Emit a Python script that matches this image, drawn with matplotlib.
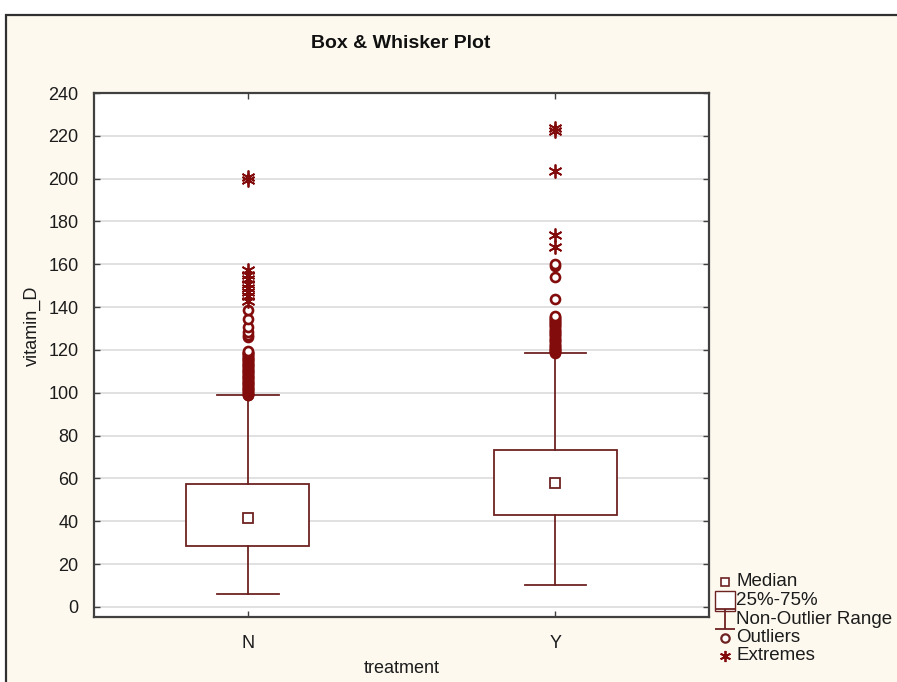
import matplotlib
matplotlib.use("Agg")
import matplotlib.pyplot as plt
from matplotlib.lines import Line2D
from matplotlib.patches import Rectangle
from matplotlib.path import Path

plt.rcParams['font.family'] = ['Liberation Sans', 'DejaVu Sans']

# data
groups = ["N", "Y"]
medians = [41.5, 58.0]
q1 = [28.5, 43.0]
q3 = [57.3, 73.2]
whisk_lo = [6.0, 10.3]
whisk_hi = [99.0, 118.5]

outliers_n = [98.8, 99.2, 99.6, 100.0, 100.4, 100.8, 101.2, 101.6, 102.0, 102.4,
              102.8, 103.2, 103.6, 104.0, 104.4, 104.8, 105.2, 105.6, 106.0, 106.4,
              106.8, 107.2, 107.6, 108.0, 108.4, 108.8, 109.2, 109.6, 110.0, 110.4,
              110.8, 111.2, 111.6, 112.0, 112.4, 112.8, 113.2, 113.6, 114.0, 114.4,
              114.8, 115.2, 115.6, 116.0, 116.4, 116.8, 117.2, 117.6, 118.0, 118.4,
              118.8, 119.2, 119.7,
              126.0, 127.2, 128.3, 130.5, 134.3, 138.6]
extremes_n = [143.0, 145.0, 147.0, 149.0, 151.0, 153.0, 155.0, 157.5, 199.2, 200.8]

outliers_y = [118.6, 119.0, 119.4, 119.8, 120.2, 120.6, 121.0, 121.5, 122.0, 122.5,
              123.0, 123.5, 124.0, 124.6, 125.2, 125.8, 126.5, 127.0, 127.5, 128.0,
              128.5, 129.0, 129.5, 130.0, 130.5, 131.0, 131.5, 132.0, 132.5, 133.0,
              133.5, 134.0, 134.5, 135.0, 135.5, 136.0,
              144.0, 154.0, 159.3, 160.3]
extremes_y = [168.0, 173.5, 203.5, 222.3, 223.5]

outliers = [outliers_n, outliers_y]
extremes = [extremes_n, extremes_y]

line_col = '#6e2222'
mark_col = '#820c0c'
cream = '#fdf9ef'
txt_col = '#1c1c1c'

W, H = 897, 682
fig = plt.figure(figsize=(W / 100, H / 100), dpi=100, facecolor='white')

# outer frame
fig.patches.append(Rectangle((6 / W, -0.05), 1.2, 1 - 15 / H + 0.05,
                             transform=fig.transFigure, facecolor=cream,
                             edgecolor='#303030', lw=1.6, zorder=-5))

ax = fig.add_axes([94 / W, 1 - 617 / H, (709 - 94) / W, (617 - 93) / H])
ax.set_facecolor('white')

stats = []
for i in range(len(groups)):
    stats.append(dict(med=medians[i], q1=q1[i], q3=q3[i],
                      whislo=whisk_lo[i], whishi=whisk_hi[i], fliers=[]))

pos = list(range(len(groups)))
ax.bxp(stats, positions=pos, widths=0.4, capwidths=0.2, patch_artist=True,
       boxprops=dict(facecolor='white', edgecolor=line_col, lw=1.3),
       whiskerprops=dict(color=line_col, lw=1.3),
       capprops=dict(color=line_col, lw=1.3),
       medianprops=dict(visible=False), zorder=3)

ax.plot(pos, medians, 's', ms=7, mfc='white', mec=line_col, mew=1.3, ls='none', zorder=4)

for i in pos:
    ax.plot([i] * len(outliers[i]), outliers[i], 'o', ms=6.5, mfc='white',
            mec=mark_col, mew=1.9, ls='none', zorder=5)
    ax.plot([i] * len(extremes[i]), extremes[i], marker=(6, 2, 0), ms=10,
            color=mark_col, mew=1.3, ls='none', zorder=5)

ax.set_xlim(-0.5, 1.5)
ax.set_ylim(-4.7, 240)
ax.set_yticks(range(0, 241, 20))
ax.set_xticks(pos)
ax.set_xticklabels(groups)
ax.yaxis.grid(True, color='#d8d8d8', lw=1.1)
ax.set_axisbelow(True)
ax.tick_params(direction='in', length=4, width=1, color='#404040',
               top=True, right=True, labelsize=13, labelcolor=txt_col)
ax.tick_params(axis='y', pad=11)
ax.tick_params(axis='x', pad=13)
for s in ax.spines.values():
    s.set_color('#404040')
    s.set_linewidth(1.6)

ax.set_xlabel('treatment', fontsize=13, color=txt_col)
ax.set_ylabel('vitamin_D', fontsize=13, color=txt_col)
ax.xaxis.set_label_coords(0.5, -0.083)
ax.yaxis.set_label_coords(-0.087, 0.555)

fig.text(401 / W, 1 - 43 / H, 'Box & Whisker Plot', ha='center', va='center',
         fontsize=14, fontweight='bold', color='#101010')

# legend
ibeam = Path([(-0.5, 0.5), (0.5, 0.5), (0, 0.5), (0, -0.5), (-0.5, -0.5), (0.5, -0.5)],
             [Path.MOVETO, Path.LINETO, Path.MOVETO, Path.LINETO, Path.MOVETO, Path.LINETO])
leg_items = [
    ('Median', dict(marker='s', ms=6, mfc='white', mec=line_col, mew=1.2)),
    ('25%-75%', dict(marker='s', ms=15, mfc='white', mec=line_col, mew=1.0)),
    ('Non-Outlier Range', dict(marker=ibeam, ms=14, color=line_col, mew=1.3)),
    ('Outliers', dict(marker='o', ms=6, mfc='white', mec=line_col, mew=1.6)),
    ('Extremes', dict(marker=(6, 2, 0), ms=8, color=mark_col, mew=1.3)),
]
for k, (lab, kw) in enumerate(leg_items):
    yy = 1 - (582 + k * 18.5) / H
    fig.add_artist(Line2D([725 / W], [yy], transform=fig.transFigure, ls='none', **kw))
    fig.text(736 / W, yy, lab, ha='left', va='center', fontsize=13.5, color=txt_col)

fig.savefig('out.png', dpi=100, facecolor=fig.get_facecolor())
